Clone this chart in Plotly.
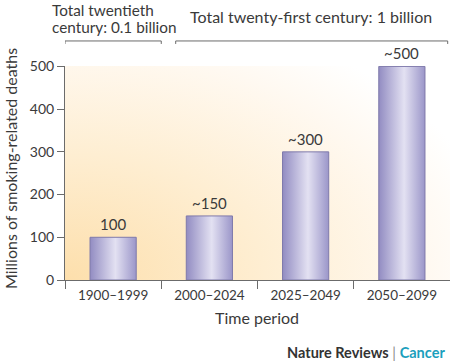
import plotly.graph_objects as go

periods = ["1900–1999", "2000–2024", "2025–2049", "2050–2099"]
deaths = [100, 150, 300, 500]
value_labels = ["100", "~150", "~300", "~500"]
y_ticks = [0, 100, 200, 300, 400, 500]
century1_lines = ["Total twentieth", "century: 0.1 billion"]
century2_label = "Total twenty-first century: 1 billion"

FONT = "Lato"
TXT = "#3a3a3a"
AX = "#6b6b6b"

fig = go.Figure()

# background glow (radial, centred on bottom-left corner of the plot area)
n = len(periods)
cx, cy = -0.5, 0
rx, ry = 4.6, 660
fig.add_trace(go.Scatter(
    x=[cx - rx, cx + rx, cx + rx, cx - rx, cx - rx],
    y=[cy - ry, cy - ry, cy + ry, cy + ry, cy - ry],
    mode="lines", line=dict(width=0), fill="toself",
    fillgradient=dict(type="radial",
                      colorscale=[[0, "#fddfac"], [0.45, "#feeed2"], [0.82, "#fff9f1"], [1, "#ffffff"]]),
    hoverinfo="skip", showlegend=False))

hw = 0.24
for i, v in enumerate(deaths):
    fig.add_trace(go.Scatter(
        x=[i - hw, i + hw, i + hw, i - hw, i - hw],
        y=[0, 0, v, v, 0],
        mode="lines", line=dict(color="#7f7aab", width=1), fill="toself",
        fillgradient=dict(type="horizontal", start=i - hw, stop=i + hw,
                          colorscale=[[0, "#928cc2"], [0.55, "#e3e1f2"], [1, "#9b96c9"]]),
        hoverinfo="skip", showlegend=False))
    fig.add_annotation(x=i, y=v, text=value_labels[i], showarrow=False,
                       yanchor="bottom", yshift=2,
                       font=dict(family=FONT, size=15, color=TXT))

fig.update_layout(
    width=450, height=362,
    margin=dict(l=65, r=0, t=66, b=82),
    paper_bgcolor="white", plot_bgcolor="white",
    showlegend=False,
    font=dict(family=FONT, size=13, color=TXT),
    xaxis=dict(range=[-0.5, n - 0.5], tickmode="array", tickvals=list(range(n)), ticktext=periods,
               ticks="outside", ticklen=3, tickcolor="rgba(0,0,0,0)",
               showline=True, linecolor=AX, linewidth=1, showgrid=False, zeroline=False,
               tickfont=dict(family=FONT, size=13.5, color=TXT),
               minor=dict(tickmode="array", tickvals=[k - 0.5 for k in range(n + 1)],
                          ticks="outside", ticklen=8, tickcolor=AX, tickwidth=1),
               fixedrange=True),
    yaxis=dict(range=[0, 501], tickmode="array", tickvals=y_ticks,
               ticks="outside", ticklen=7, tickcolor=AX, tickwidth=1,
               showline=True, linecolor=AX, linewidth=1, showgrid=False, zeroline=False,
               tickfont=dict(family=FONT, size=14, color=TXT), fixedrange=True),
)

# axis titles
fig.add_annotation(xref="paper", yref="paper", x=-0.143, y=0.523, text="Millions of smoking-related deaths",
                   textangle=-90, showarrow=False, xanchor="center", yanchor="middle",
                   font=dict(family=FONT, size=16, color=TXT))
fig.add_annotation(xref="paper", yref="paper", x=0.499, y=-0.173, text="Time period",
                   showarrow=False, xanchor="center", yanchor="middle",
                   font=dict(family=FONT, size=16, color=TXT))

# century brackets
yb_top, yb_bot = 1.117, 1.103
brackets = [(-0.5, 0.5), (0.65, 3.476)]
for x0, x1 in brackets:
    fig.add_shape(type="path", xref="x", yref="paper",
                  path=f"M {x0},{yb_bot} L {x0},{yb_top} L {x1},{yb_top} L {x1},{yb_bot}",
                  line=dict(color=AX, width=1))
for line_text, yy in zip(century1_lines, [1.262, 1.182]):
    fig.add_annotation(xref="paper", yref="paper", x=-0.039, y=yy, text=line_text,
                       showarrow=False, xanchor="left", yanchor="middle", align="left",
                       font=dict(family=FONT, size=15.3, color=TXT))
fig.add_annotation(xref="paper", yref="paper", x=0.639, y=1.229, text=century2_label,
                   showarrow=False, xanchor="center", yanchor="middle",
                   font=dict(family=FONT, size=16, color=TXT))

# journal credit
fig.add_annotation(xref="paper", yref="paper", x=0.993, y=-0.341,
                   text="<b>Nature Reviews</b> <span style='color:#8a8a8a'>|</span> <b><span style='color:#1b9fbd'>Cancer</span></b>",
                   showarrow=False, xanchor="right", yanchor="middle",
                   font=dict(family=FONT, size=14.5, color="#333333"))

fig.write_html("out.html", config={"displayModeBar": False},
               post_script="document.body.style.margin='0';document.body.style.overflow='hidden';")
